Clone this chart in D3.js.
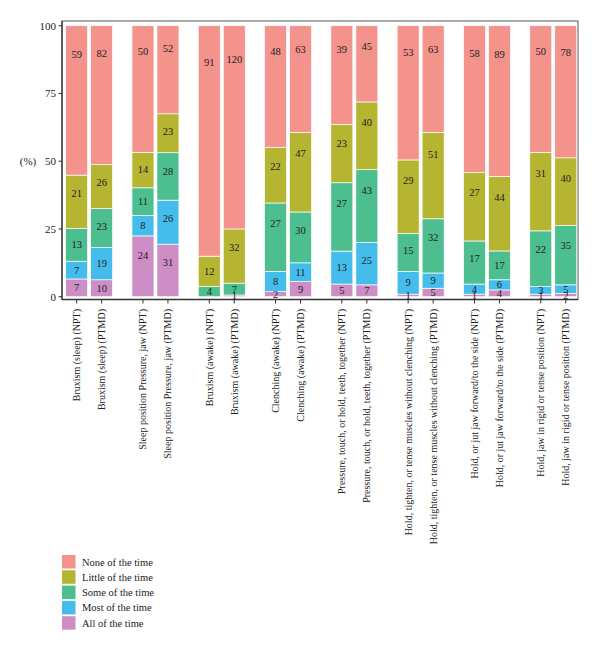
<!DOCTYPE html>
<html><head><meta charset="utf-8">
<script src="https://cdn.jsdelivr.net/npm/d3@7"></script>
<style>body{margin:0;background:#fff;} text{font-family:"Liberation Serif","DejaVu Serif",serif;}</style>
</head><body>
<svg id="c" width="600" height="652"></svg>
<script>
const groups = [
  "Bruxism (sleep)",
  "Sleep position Pressure, jaw",
  "Bruxism (awake)",
  "Clenching (awake)",
  "Pressure, touch, or hold, teeth, together",
  "Hold, tighten, or tense muscles without clenching",
  "Hold, or jut jaw forward/to the side",
  "Hold, jaw in rigid or tense position"
];
const cohorts = ["NPT", "PTMD"];
// stacked bottom to top
const categories = ["All of the time", "Most of the time", "Some of the time", "Little of the time", "None of the time"];
const colors = ["#CC8EC4", "#44BDEC", "#4DBE8F", "#B5B532", "#F4928C"];
// values per bar: [All, Most, Some, Little, None]
const npt = [
  [7, 7, 13, 21, 59],
  [24, 8, 11, 14, 50],
  [0, 0, 4, 12, 91],
  [2, 8, 27, 22, 48],
  [5, 13, 27, 23, 39],
  [1, 9, 15, 29, 53],
  [1, 4, 17, 27, 58],
  [1, 3, 22, 31, 50]
];
const ptmd = [
  [10, 19, 23, 26, 82],
  [31, 26, 28, 23, 52],
  [1, 0, 7, 32, 120],
  [9, 11, 30, 47, 63],
  [7, 25, 43, 40, 45],
  [5, 9, 32, 51, 63],
  [4, 6, 17, 44, 89],
  [2, 5, 35, 40, 78]
];
const yTicks = [0, 25, 50, 75, 100];
const legendOrder = ["None of the time", "Little of the time", "Some of the time", "Most of the time", "All of the time"];

const svg = d3.select("#c");
const pLeft = 62, pRight = 578, pTop = 21, pBottom = 299.5;
const y = d3.scaleLinear().domain([0, 100]).range([296.7, 25.7]);
const x0 = d3.scaleBand().domain(groups).range([56, 586.4]).paddingInner(0).paddingOuter(0);
const x1 = d3.scaleBand().domain(cohorts).range([8.15, 58.15]).paddingInner(0.12).paddingOuter(0.06);
const color = d3.scaleOrdinal().domain(categories).range(colors);

// build bars
const bars = [];
groups.forEach((g, gi) => {
  cohorts.forEach(c => {
    const vals = c === "NPT" ? npt[gi] : ptmd[gi];
    const total = d3.sum(vals);
    let cum = 0;
    const segs = vals.map((v, i) => {
      const p = v / total * 100;
      const s = {cat: categories[i], v, y0: cum, y1: cum + p};
      cum += p;
      return s;
    });
    bars.push({g, c, segs, cx: x0(g) + x1(c) + x1.bandwidth() / 2});
  });
});

// frame
svg.append("rect").attr("x", pLeft).attr("y", pTop).attr("width", pRight - pLeft).attr("height", pBottom - pTop)
  .attr("fill", "none").attr("stroke", "#555").attr("stroke-width", 1);

const bg = svg.append("g");
bars.forEach(b => {
  const gx = x0(b.g) + x1(b.c);
  b.segs.forEach(s => {
    if (s.v === 0) return;
    bg.append("rect").attr("x", gx).attr("width", x1.bandwidth())
      .attr("y", y(s.y1)).attr("height", y(s.y0) - y(s.y1))
      .attr("fill", color(s.cat)).attr("stroke", "#fff").attr("stroke-width", 0.7);
  });
  b.segs.forEach(s => {
    if (s.v === 0) return;
    const seg = s.y1 - s.y0;
    const off = Math.min(seg / 2, 5 + 0.1 * seg);
    bg.append("text").attr("x", b.cx).attr("y", y(s.y1 - off))
      .attr("text-anchor", "middle").attr("dominant-baseline", "central")
      .attr("font-size", 10.5).attr("fill", "#222").text(s.v);
  });
});

// y axis
const ya = svg.append("g");
ya.append("line").attr("x1", pLeft).attr("x2", pLeft).attr("y1", pTop).attr("y2", pBottom).attr("stroke", "#333").attr("stroke-width", 1.3);
yTicks.forEach(t => {
  ya.append("line").attr("x1", pLeft - 3.5).attr("x2", pLeft).attr("y1", y(t)).attr("y2", y(t)).attr("stroke", "#333");
  ya.append("text").attr("x", pLeft - 6).attr("y", y(t)).attr("text-anchor", "end").attr("dominant-baseline", "central")
    .attr("font-size", 11).attr("fill", "#222").text(t);
});
svg.append("text").attr("x", 28).attr("y", y(50)).attr("text-anchor", "middle").attr("dominant-baseline", "central")
  .attr("font-size", 11).attr("fill", "#222").text("(%)");

// x axis
const xa = svg.append("g");
xa.append("line").attr("x1", pLeft).attr("x2", pRight).attr("y1", pBottom).attr("y2", pBottom).attr("stroke", "#333").attr("stroke-width", 1.3);
bars.forEach(b => {
  xa.append("line").attr("x1", b.cx).attr("x2", b.cx).attr("y1", pBottom).attr("y2", pBottom + 4).attr("stroke", "#333");
  xa.append("text").attr("transform", `translate(${b.cx},309) rotate(-90)`)
    .attr("text-anchor", "end").attr("dominant-baseline", "central")
    .attr("font-size", 10).attr("fill", "#222").text(`${b.g} (${b.c})`);
});

// legend
const lg = svg.append("g");
legendOrder.forEach((cat, i) => {
  const yy = 555 + i * 15.3;
  lg.append("rect").attr("x", 62).attr("y", yy).attr("width", 13.5).attr("height", 13.5).attr("fill", color(cat));
  lg.append("text").attr("x", 82).attr("y", yy + 7).attr("dominant-baseline", "central")
    .attr("font-size", 10.5).attr("fill", "#222").text(cat);
});
</script>
</body></html>
